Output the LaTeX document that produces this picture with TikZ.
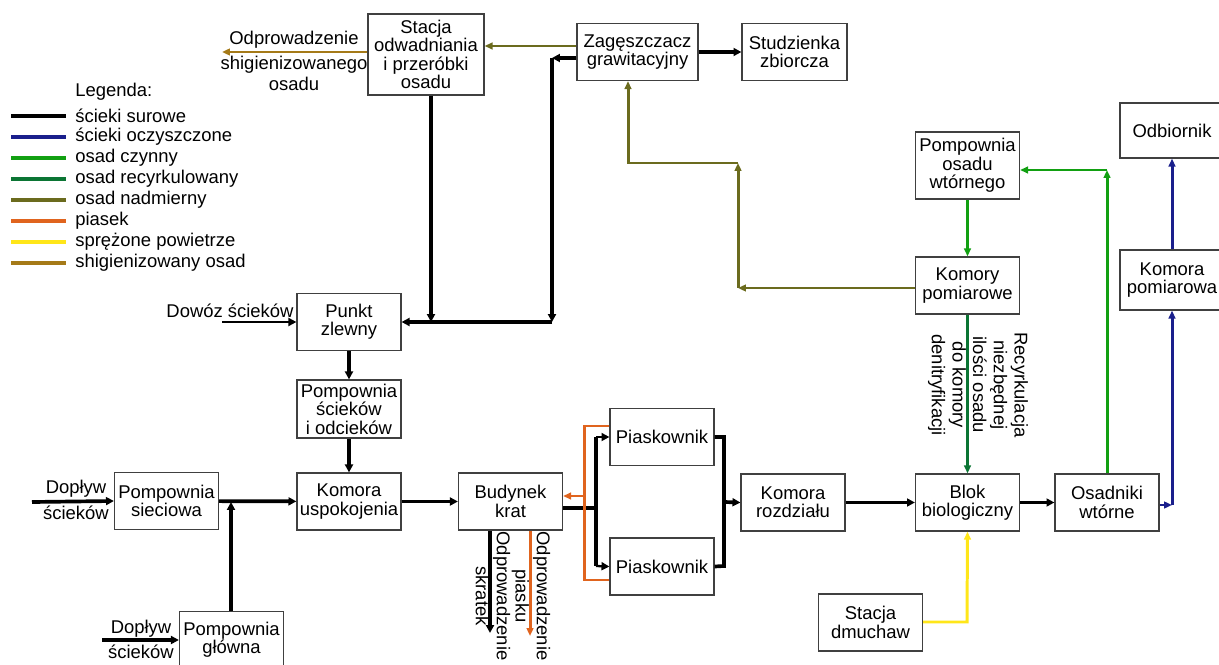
\documentclass[tikz,border=0pt]{standalone}
\usepackage{fontspec}
\setmainfont{Liberation Sans}
\usetikzlibrary{arrows.meta}
\definecolor{ramka}{HTML}{404040}
\definecolor{kolocz}{HTML}{1A1F8C}
\definecolor{kolczyn}{HTML}{12A012}
\definecolor{kolrec}{HTML}{0B7534}
\definecolor{kolnadm}{HTML}{6B6B1E}
\definecolor{kolpias}{HTML}{E0641E}
\definecolor{kolpow}{HTML}{FFE619}
\definecolor{kolhig}{HTML}{A57A18}

\begin{document}
\begin{tikzpicture}[x=0.02cm,y=-0.02cm]
\tikzstyle{blok}=[draw=ramka, line width=0.7pt, align=center, minimum width=2.08cm, minimum height=1.14cm, inner sep=1pt, font=\fontsize{10.5}{10.5}\selectfont]
\tikzstyle{opis}=[align=center, inner sep=0pt, font=\fontsize{10.5}{12}\selectfont]
\tikzstyle{gruba}=[line width=2.1pt, -{Triangle[length=4.5pt,width=4.5pt]}]
\tikzstyle{cienka}=[line width=1.3pt, -{Triangle[length=4.5pt,width=4.5pt]}]
\tikzstyle{barwna}=[line width=1.7pt, -{Triangle[length=4.5pt,width=3.8pt]}]
\useasboundingbox (0,0) rectangle (1219,665);

   % bloki
   \node[blok, minimum width=2.32cm, minimum height=1.62cm] (stacja) at (426,54.5) {Stacja\\odwadniania\\i przeróbki\\osadu};
   \node[blok, minimum width=2.42cm] (zag) at (637.5,52) {Zagęszczacz\\grawitacyjny};
   \node[blok, minimum width=2.1cm] (stud) at (794.5,52) {Studzienka\\zbiorcza};
   \node[blok, minimum height=1.1cm] (odb) at (1172,130.5) {Odbiornik};
   \node[blok, minimum height=1.34cm] (pow) at (967.5,165.5) {Pompownia\\osadu\\wtórnego};
   \node[blok] (kpom) at (967.5,285.5) {Komory\\pomiarowe};
   \node[blok, minimum height=1.2cm] (kpoma) at (1172,280) {Komora\\pomiarowa};
   \node[blok] (punkt) at (349,322) {Punkt\\zlewny};
   \node[blok, minimum height=1.16cm] (psc) at (349,409) {Pompownia\\ścieków\\i odcieków};
   \node[blok] (psiec) at (166.5,501) {Pompownia\\sieciowa};
   \node[blok] (kusp) at (349,501.5) {Komora\\uspokojenia};
   \node[blok] (krat) at (510.5,501.5) {Budynek\\krat};
   \node[blok] (pias1) at (662,437) {Piaskownik};
   \node[blok] (pias2) at (662,566.5) {Piaskownik};
   \node[blok] (kroz) at (793,502.5) {Komora\\rozdziału};
   \node[blok] (bio) at (967.5,502.5) {Blok\\biologiczny};
   \node[blok] (osad) at (1107,502.5) {Osadniki\\wtórne};
   \node[blok] (dmuch) at (870.5,622.5) {Stacja\\dmuchaw};
   \node[blok] (pglow) at (231.5,640) {Pompownia\\główna};

   % opisy
   \node[opis] (odpr) at (294,61) {Odprowadzenie\\[2pt]shigienizowanego\\osadu};
   \node[opis] (dowoz) at (230,311) {Dowóz ścieków};
   \node[opis] (dop1a) at (76,489) {Dopływ};
   \node[opis] (dop1b) at (76,513) {ścieków};
   \node[opis] (dop2a) at (141,629) {Dopływ};
   \node[opis] (dop2b) at (141,652) {ścieków};
   \node[opis, rotate=-90] (oskr) at (493,596) {Odprowadzenie\\skratek};
   \node[opis, rotate=-90] (opia) at (531,596) {Odprowadzenie\\piasku};
   \node[opis, rotate=-90, font=\fontsize{10.5}{11.8}\selectfont] (orec) at (978,385) {Recyrkulacja\\niezbędnej\\ilości osadu\\do komory\\denitryfikacji};

   % punkty pomocnicze
   \coordinate (n0) at (0,46);
   \coordinate (h1) at (222,52);
   \coordinate (z1) at (552,58);
   \coordinate (z2) at (552,322);
   \coordinate (s1) at (431,322);
   \coordinate (dw) at (222,322);
   \coordinate (d1) at (32,502);
   \coordinate (d2) at (102,640);
   \coordinate (j1) at (231,502);
   \coordinate (k1) at (596,508);
   \coordinate (k2) at (596,437);
   \coordinate (k3) at (596,566);
   \coordinate (p1) at (584,426);
   \coordinate (p2) at (584,580);
   \coordinate (p3) at (584,496);
   \coordinate (r1) at (724,437);
   \coordinate (r2) at (724,566);
   \coordinate (r3) at (724,502);
   \coordinate (b1) at (1172,505);
   \coordinate (g1) at (1107,170);
   \coordinate (o1) at (738,288);
   \coordinate (o2) at (738,163);
   \coordinate (o3) at (628,163);
   \coordinate (y1) at (967,622);
   \coordinate (skr) at (490,633);
   \coordinate (pia) at (530,636);

   % scieki surowe
   \draw[gruba] (zag.west |- z1) -- (z1);
   \draw[gruba] (z1) -- (z2);
   \draw[gruba] (z2) -- (punkt.east |- z2);
   \draw[gruba] (stacja.south -| s1) -- (s1);
   \draw[cienka] (dw) -- (punkt.west);
   \draw[gruba] (d1) -- (psiec.west);
   \draw[gruba] (d2) -- (pglow.west);
   \draw[gruba] (pglow.north -| j1) -- (j1);
  \foreach \from/\to in {punkt/psc,psc/kusp,psiec/kusp,kusp/krat,kroz/bio,bio/osad,zag/stud}
    \draw[gruba] (\from) -- (\to);
   \draw[gruba, -] (krat.east |- k1) -- (k1);
   \draw[gruba, -] (k2) -- (k3);
   \draw[cienka] (k2) -- (pias1.west);
   \draw[cienka] (k3) -- (pias2.west);
   \draw[gruba, -] (pias1.east) -- (r1) -- (r2) -- (pias2.east);
   \draw[gruba] (r3) -- (kroz.west);
   \draw[gruba] (krat.south -| skr) -- (skr);

   % piasek
   \draw[barwna, draw=kolpias, -] (pias1.west |- p1) -- (p1) -- (p2) -- (pias2.west |- p2);
   \draw[barwna, kolpias] (p3) -- (krat.east |- p3);
   \draw[barwna, kolpias] (krat.south -| pia) -- (pia);

   % osad
   \draw[barwna, kolnadm] (zag.west |- n0) -- (stacja.east |- n0);
   \draw[barwna, kolhig] (stacja.west |- h1) -- (h1);
   \draw[barwna, kolnadm] (kpom.west |- o1) -- (o1);
   \draw[barwna, kolnadm] (o1) -- (o2);
   \draw[barwna, kolnadm] (o2) -- (o3) -- (zag.south -| o3);
   \draw[barwna, kolczyn] (osad.north) -- (g1);
   \draw[barwna, kolczyn] (g1) -- (pow.east |- g1);
   \draw[barwna, kolczyn] (pow) -- (kpom);
   \draw[barwna, kolrec] (kpom) -- (bio);

   % scieki oczyszczone, powietrze
   \draw[barwna, kolocz] (osad.east |- b1) -- (b1);
   \draw[barwna, kolocz] (b1) -- (kpoma.south);
   \draw[barwna, kolocz] (kpoma) -- (odb);
   \draw[barwna, kolpow] (dmuch.east |- y1) -- (y1) -- (bio.south);

   % legenda
   \node[opis, anchor=west] (leg) at (75,92) {Legenda:};
  \foreach \kol/\tekst [count=\i] in {black/ścieki surowe,kolocz/ścieki oczyszczone,kolczyn/osad czynny,kolrec/osad recyrkulowany,kolnadm/osad nadmierny,kolpias/piasek,kolpow/sprężone powietrze,kolhig/shigienizowany osad}
  {
   \draw[\kol, line width=1.8pt] (11,95+21*\i) -- (66,95+21*\i);
   \node[opis, anchor=west] (leg\i) at (75,95+21*\i) {\tekst};
  }
\end{tikzpicture}
\end{document}
